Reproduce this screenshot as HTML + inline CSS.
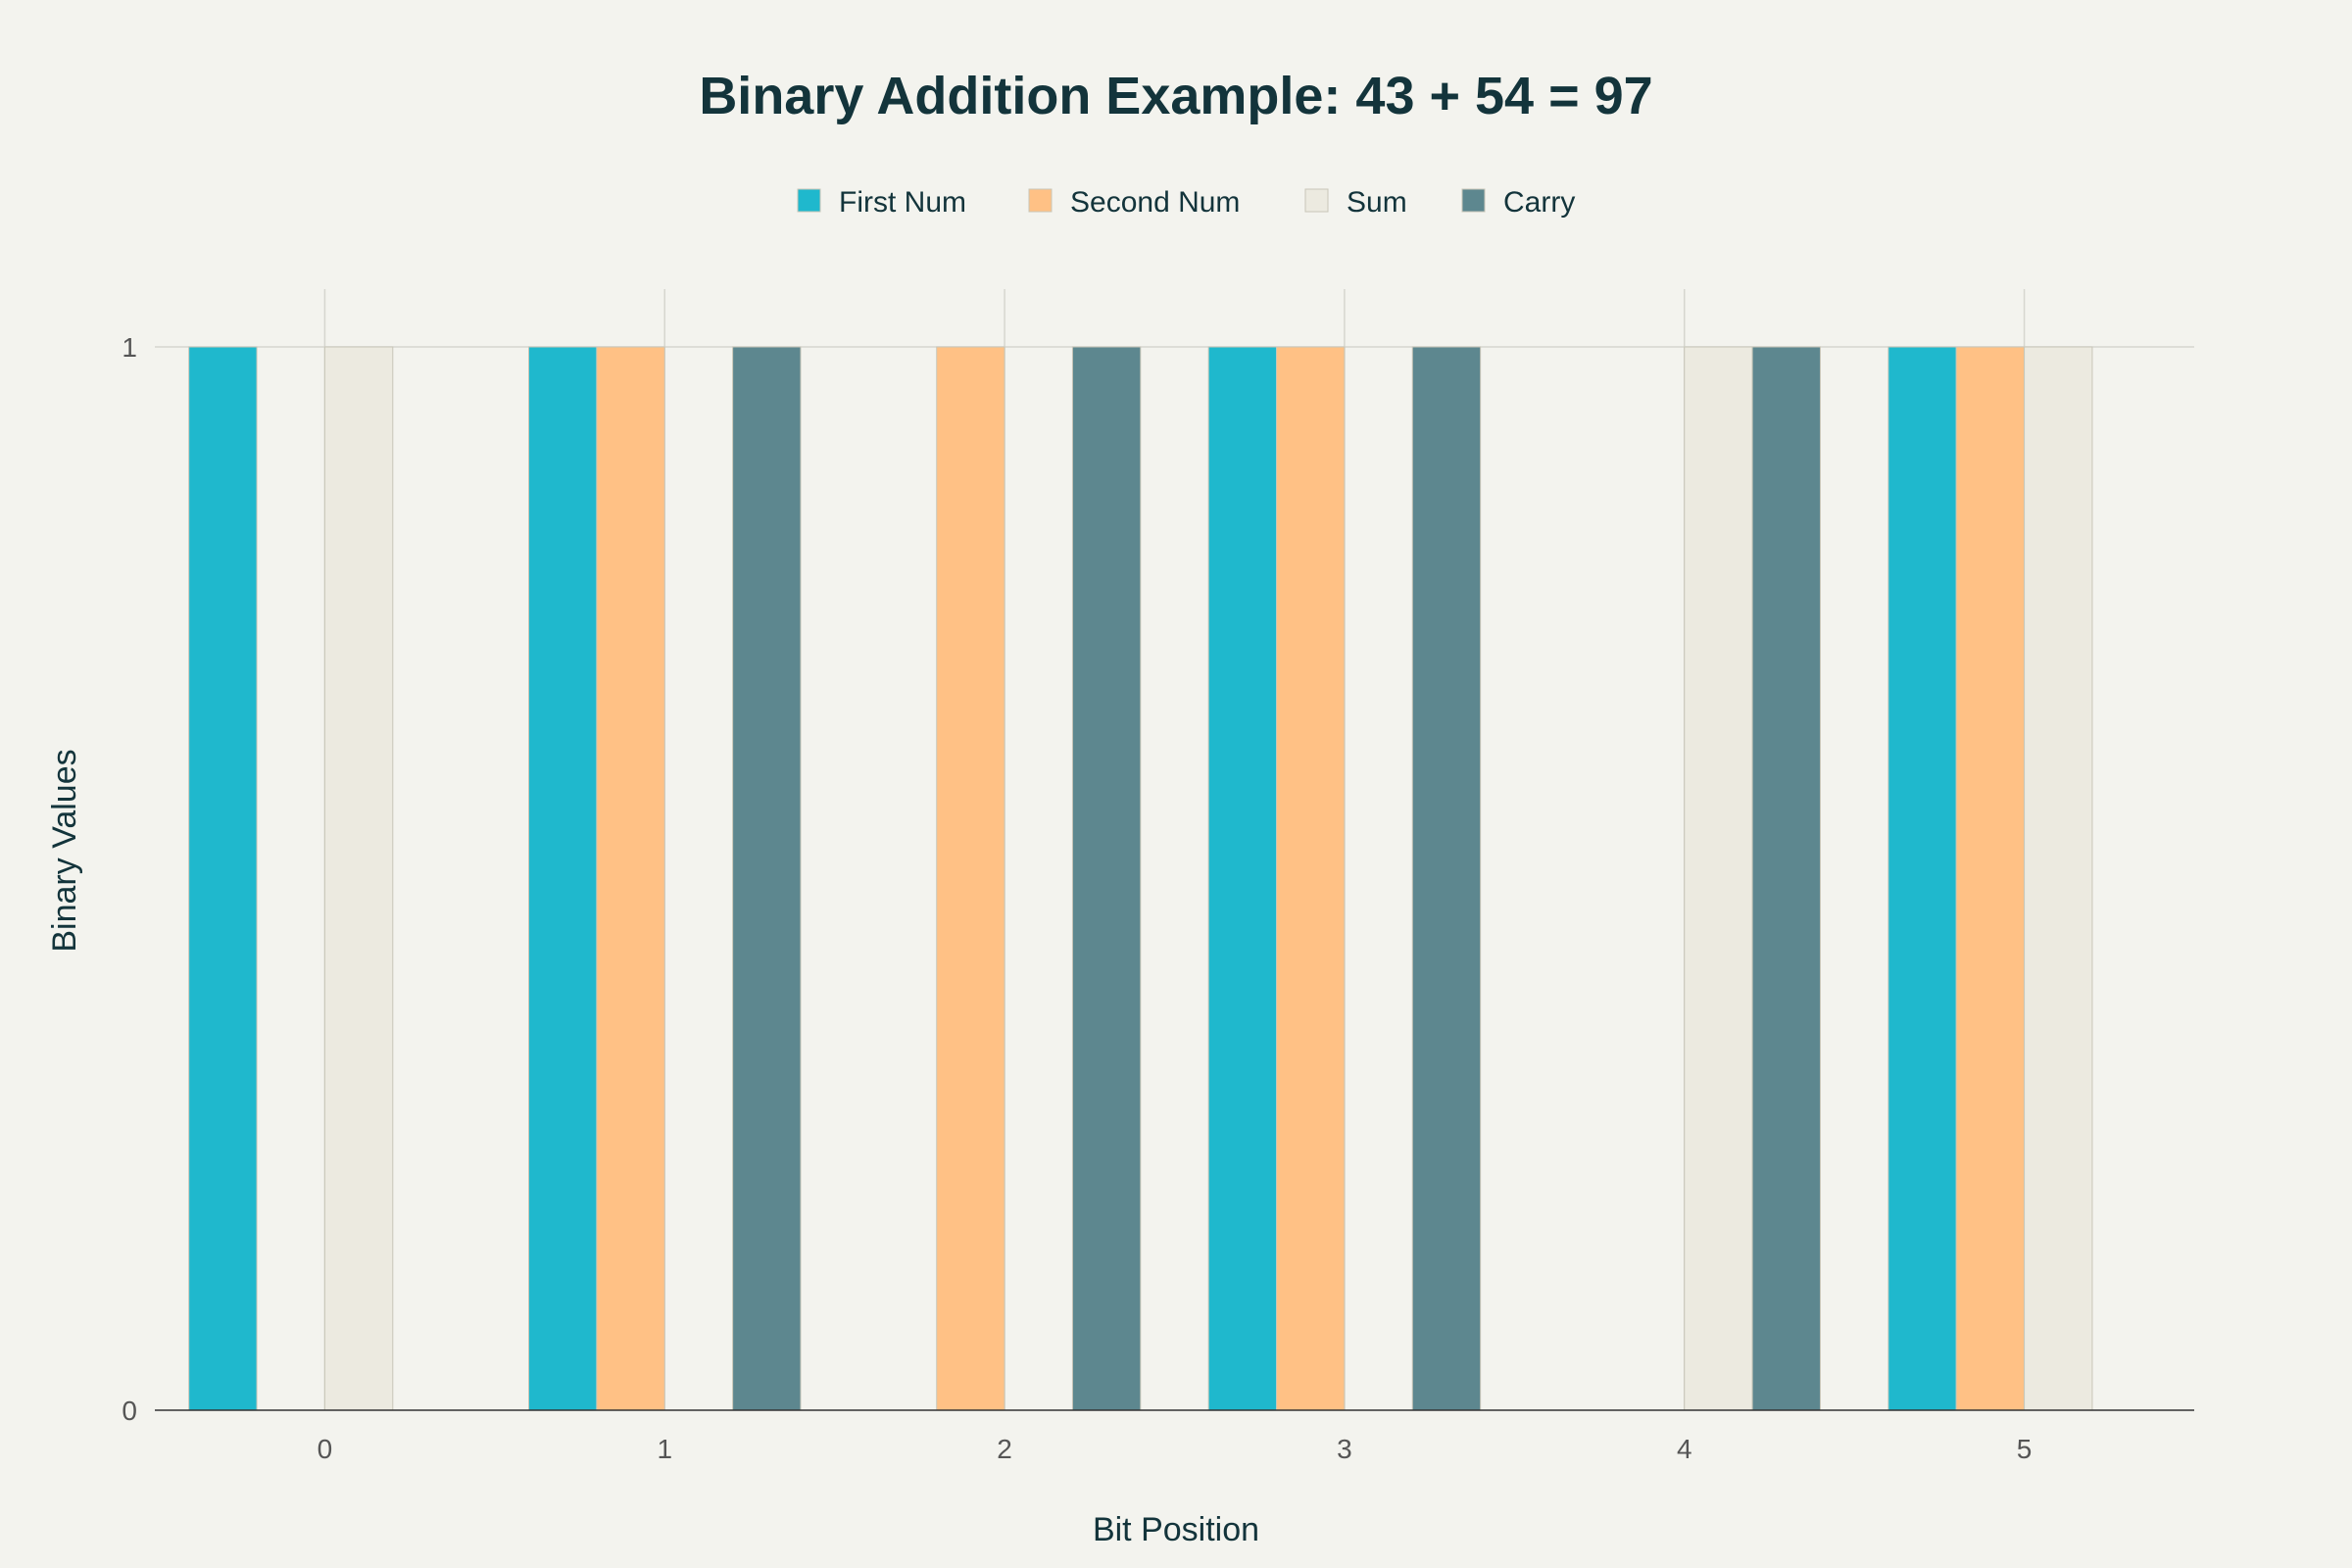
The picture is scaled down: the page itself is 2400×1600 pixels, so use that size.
<!DOCTYPE html>
<html><head><meta charset="utf-8"><style>
html,body{margin:0;padding:0;background:#f3f3ee;}
svg{display:block;font-family:"Liberation Sans",sans-serif;}
</style></head><body>
<svg id="chart" width="2400" height="1600" xmlns="http://www.w3.org/2000/svg">
<rect width="2400" height="1600" fill="#f3f3ee"/>
<text x="1200" y="116" text-anchor="middle" font-size="54" font-weight="bold" fill="#13343b">Binary Addition Example: 43 + 54 = 97</text>
<g id="legend"></g>
<g id="grid"></g>
<g id="bars"></g>
<g id="axes"></g>
<text x="1200" y="1572" text-anchor="middle" font-size="34" fill="#13343b">Bit Position</text>
<text transform="translate(77,868) rotate(-90)" text-anchor="middle" font-size="34" fill="#13343b">Binary Values</text>
</svg>
<script>
const categories = [0,1,2,3,4,5];
const seriesNames = ["First Num","Second Num","Sum","Carry"];
const firstNum = [1,1,0,1,0,1];
const secondNum = [0,1,1,1,0,1];
const sumBits = [1,0,0,0,1,1];
const carryBits = [0,1,1,1,1,0];
const yTicks = [0,1];
const colors = ["#1fb8cd","#ffc185","#eceae0","#5d878f"];
const NS="http://www.w3.org/2000/svg";
const L=158,R=2239,T=295,Y0=1439,Y1=354;
const xs=v=>L+(v+0.5)/6*(R-L);
const ys=v=>Y0+(Y1-Y0)*v;
const step=(R-L)/6;
function mk(tag,attrs,parent){const e=document.createElementNS(NS,tag);for(const k in attrs)e.setAttribute(k,attrs[k]);parent.appendChild(e);return e;}
const grid=document.getElementById('grid'),bars=document.getElementById('bars'),axes=document.getElementById('axes'),legend=document.getElementById('legend');
categories.forEach(c=>{
  const l=mk('line',{x1:xs(c),x2:xs(c),y1:T,y2:Y0,stroke:'#d6d6cf','stroke-width':1.5},grid);
  
  
  const t=mk('text',{x:xs(c),y:1488,'text-anchor':'middle','font-size':28,fill:'#555'},axes);
  t.textContent=c;
  
  
});
yTicks.forEach(v=>{
  if(v>0){const l=mk('line',{x1:L,x2:R,y1:ys(v),y2:ys(v),stroke:'#d6d6cf','stroke-width':1.5},grid);
  
  }
  const t=mk('text',{x:L-18,y:ys(v)+10,'text-anchor':'end','font-size':28,fill:'#555'},axes);
  t.textContent=v;
  
  
});
const series=[firstNum,secondNum,sumBits,carryBits];
const bw=step*0.2;
series.forEach((s,si)=>{
  s.forEach((v,i)=>{
    if(v<=0)return;
    const x=xs(categories[i])-step*0.4+si*bw;
    const r=mk('rect',{x:x,y:ys(v),width:bw,height:Y0-ys(v),fill:colors[si],stroke:'#c8c6b8','stroke-width':1},bars);
    
    
  });
});
const ax=mk('line',{x1:L,x2:R,y1:Y0,y2:Y0,stroke:'#333','stroke-width':1.5},axes);


const lx=[814,1050,1332,1492];
seriesNames.forEach((n,i)=>{
  const g=mk('g',{},legend);
  
  
  mk('rect',{x:lx[i],y:193,width:23,height:23,fill:colors[i],stroke:'#c8c6b8','stroke-width':1},g);
  const t=mk('text',{x:lx[i]+42,y:216,'font-size':30,fill:'#13343b'},g);
  t.textContent=n;
});
</script>
</body></html>
